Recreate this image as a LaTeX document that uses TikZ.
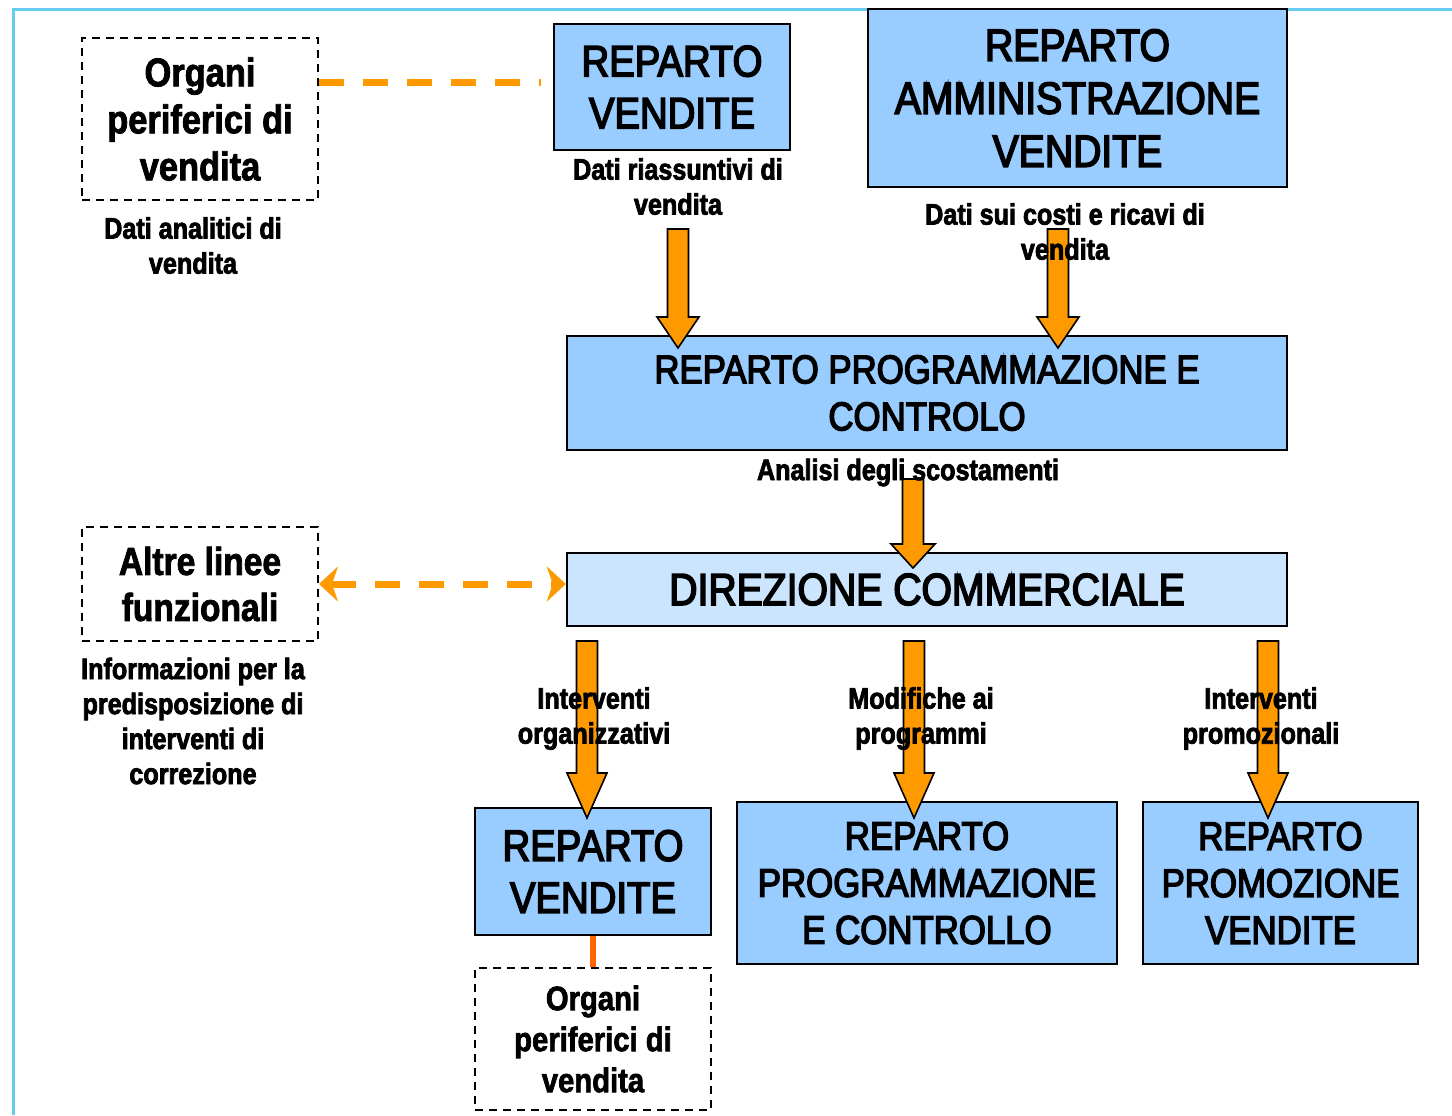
\documentclass[tikz,border=0pt]{standalone}
\usepackage{fontspec}
\setmainfont{Liberation Sans}[FakeStretch=0.88]
\newfontfamily\boxfont{Liberation Sans}[FakeStretch=0.87,FakeBold=3.5]
\newfontfamily\dboxfont{Liberation Sans Bold}[FakeStretch=0.86,FakeBold=2]
\newfontfamily\lblfont{Liberation Sans Bold}[FakeStretch=0.85,FakeBold=2.5]
\usetikzlibrary{calc,arrows.meta}
\definecolor{boxblue}{HTML}{99CCFF}
\definecolor{lightblue}{HTML}{CCE5FF}
\definecolor{orange1}{HTML}{FF9900}
\definecolor{orange2}{HTML}{FF6600}
\definecolor{framecol}{HTML}{66CCEE}
\newcommand\blockarrow[4]{% start, tip, head length, head half width
  \draw[blockarr] let \p1=(#1), \p2=(#2) in
   ({\x1-5.25pt},\y1) -- ({\x1+5.25pt},\y1) -- ({\x1+5.25pt},{\y2+#3}) --
   ({\x1+#4},{\y2+#3}) -- (\x2,\y2) -- ({\x1-#4},{\y2+#3}) --
   ({\x1-5.25pt},{\y2+#3}) -- cycle;}
\begin{document}
\begin{tikzpicture}[x=0.5pt,y=-0.5pt,
  bluebox/.style={draw=black, line width=1.2pt, fill=boxblue, align=center, inner sep=0pt},
  bigtxt/.style={font=\boxfont\fontsize{22}{26}\selectfont},
  medtxt/.style={font=\boxfont\fontsize{20}{23.5}\selectfont},
  dashbox/.style={draw=black, dash pattern=on 4pt off 3pt, line width=1pt, align=center, inner sep=0pt},
  lbl/.style={font=\lblfont\fontsize{14.8}{17.5}\selectfont, align=center, inner sep=0pt},
  blockarr/.style={draw=black, line width=0.8pt, fill=orange1, line join=miter},
  oradash/.style={draw=orange1, line width=3.5pt, dash pattern=on 12.5pt off 9.5pt},
  frameline/.style={draw=framecol, line width=1.5pt}
]
\useasboundingbox (0,0) rectangle (1452,1115);
% frame
\coordinate (fbl) at (13,1115);
\coordinate (ftl) at (13,9);
\coordinate (ftr) at (1452,9);
\draw[frameline] (fbl) -- (ftl) -- (ftr);

% boxes
\node[bluebox,bigtxt,minimum width=118pt,minimum height=63pt] (rv1) at (672,87) {REPARTO\\VENDITE};
\node[bluebox,font=\boxfont\fontsize{22.5}{26.5}\selectfont,minimum width=209.5pt,minimum height=89pt] (amm) at (1077.5,98) {REPARTO\\AMMINISTRAZIONE\\VENDITE};
\node[bluebox,medtxt,minimum width=360pt,minimum height=57pt] (prog1) at (927,393) {REPARTO PROGRAMMAZIONE E\\CONTROLO};
\node[bluebox,fill=lightblue,font=\boxfont\fontsize{22.5}{26}\selectfont,minimum width=360pt,minimum height=36.5pt] (dir) at (927,589.5) {DIREZIONE COMMERCIALE};
\node[bluebox,bigtxt,minimum width=118pt,minimum height=63.5pt] (rv2) at (593,871.5) {REPARTO\\VENDITE};
\node[bluebox,medtxt,minimum width=190pt,minimum height=81pt] (prog2) at (927,883) {REPARTO\\PROGRAMMAZIONE\\E CONTROLLO};
\node[bluebox,medtxt,minimum width=137.5pt,minimum height=81pt] (promo) at (1280.5,883) {REPARTO\\PROMOZIONE\\VENDITE};
\node[dashbox,font=\dboxfont\fontsize{20}{23.5}\selectfont,minimum width=118pt,minimum height=81pt] (org1) at (200,119) {Organi\\periferici di\\vendita};
\node[dashbox,font=\dboxfont\fontsize{19.5}{23}\selectfont,minimum width=118pt,minimum height=57pt] (altre) at (200,584) {Altre linee\\funzionali};
\node[dashbox,font=\dboxfont\fontsize{17}{20.5}\selectfont,minimum width=118pt,minimum height=71pt] (org2) at (593,1039) {Organi\\periferici di\\vendita};

% block arrows
\coordinate (a1s) at (678,229);  \coordinate (a1t) at (678,348);
\coordinate (a2s) at (1058,229); \coordinate (a2t) at (1058,348);
\coordinate (a3s) at (913,479);  \coordinate (a3t) at (913,568);
\coordinate (a4s) at (587,641);  \coordinate (a4t) at (587,818);
\coordinate (a5s) at (914,641);  \coordinate (a5t) at (914,818);
\coordinate (a6s) at (1268,641); \coordinate (a6t) at (1268,818);
\blockarrow{a1s}{a1t}{15.5pt}{10.5pt}
\blockarrow{a2s}{a2t}{15.5pt}{10.5pt}
\blockarrow{a3s}{a3t}{12pt}{11pt}
\blockarrow{a4s}{a4t}{22.5pt}{10pt}
\blockarrow{a5s}{a5t}{22.5pt}{10pt}
\blockarrow{a6s}{a6t}{22.5pt}{10pt}

% dashed connectors
\coordinate (dl) at (541,82);
\draw[oradash] (org1.east |- dl) -- (dl);
\draw[oradash,{Stealth[length=9.5pt,width=17.5pt,inset=3pt]}-{Stealth[length=9.5pt,width=17.5pt,inset=3pt]}] (altre.east) -- (altre.east -| dir.west);
\draw[draw=orange2,line width=3pt] (rv2.south) -- (org2.north);

% labels
\node[lbl] (l1) at (193,245.5) {Dati analitici di\\vendita};
\node[lbl] (l2) at (678,186.5) {Dati riassuntivi di\\vendita};
\node[lbl] (l3) at (1065,231.5) {Dati sui costi e ricavi di\\vendita};
\node[lbl] (l4) at (908,472.5) {Analisi degli scostamenti};
\node[lbl] (l5) at (193,721) {Informazioni per la\\predisposizione di\\interventi di\\correzione};
\node[lbl] (l6) at (594,718.5) {Interventi\\organizzativi};
\node[lbl] (l7) at (921,718.5) {Modifiche ai\\programmi};
\node[lbl] (l8) at (1261,718.5) {Interventi\\promozionali};
\end{tikzpicture}
\end{document}
